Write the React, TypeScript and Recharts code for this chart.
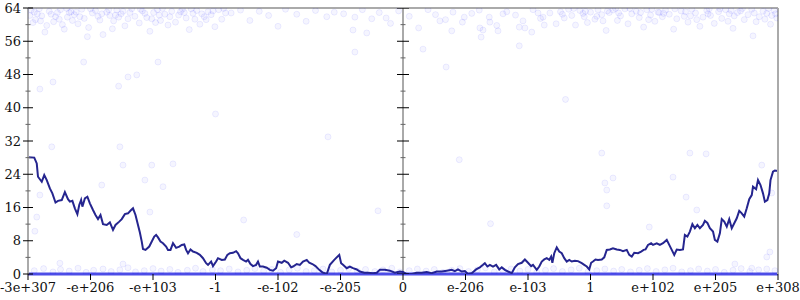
import React from 'react';
import {
  ComposedChart,
  Line,
  ReferenceLine,
  Scatter,
  XAxis,
  YAxis,
} from 'recharts';

// tick labels of the transformed x axis, one per integer position 0..12
const xLabels = [
  '-3e+307', '-e+206', '-e+103', '-1', '-e-102', '-e-205', '0',
  'e-206', 'e-103', '1', 'e+102', 'e+205', 'e+308',
];
const xTicks = [0, 1, 2, 3, 4, 5, 6, 7, 8, 9, 10, 11, 12];
const yTicks = [0, 4, 8, 12, 16, 20, 24, 28, 32, 36, 40, 44, 48, 52, 56, 60, 64];

// running curve (x position, value)
const walk: [number, number][] = [
  [0, 28.1], [0.1, 28.0], [0.14, 26.6], [0.16, 23.4], [0.22, 22.2], [0.26, 23.8], [0.3, 22.6],
  [0.35, 20.6], [0.39, 19.4], [0.44, 17.2], [0.48, 17.6], [0.54, 17.8], [0.59, 19.7], [0.64, 18.0],
  [0.67, 17.4], [0.71, 17.6], [0.75, 15.8], [0.79, 14.4], [0.82, 16.6], [0.85, 17.8], [0.87, 16.2],
  [0.91, 18.2], [0.95, 18.6], [0.99, 17.0], [1.04, 15.4], [1.08, 14.2], [1.12, 13.2], [1.16, 14.2],
  [1.2, 12.0], [1.26, 11.8], [1.31, 12.4], [1.36, 10.6], [1.4, 11.8], [1.46, 12.6], [1.5, 13.2],
  [1.55, 14.4], [1.6, 14.6], [1.65, 15.4], [1.68, 15.8], [1.72, 14.2], [1.76, 11.8], [1.79, 10.0],
  [1.82, 7.8], [1.84, 6.0], [1.88, 5.8], [1.94, 6.6], [2.02, 9.0], [2.05, 9.4], [2.08, 8.8],
  [2.12, 7.8], [2.16, 7.4], [2.21, 6.6], [2.24, 5.8], [2.28, 5.8], [2.32, 7.4], [2.37, 6.3],
  [2.42, 6.6], [2.46, 7.0], [2.5, 7.1], [2.53, 5.8], [2.56, 5.0], [2.6, 5.9], [2.64, 5.4],
  [2.7, 5.1], [2.75, 4.6], [2.8, 3.8], [2.85, 2.6], [2.88, 2.2], [2.93, 3.0], [2.96, 1.9],
  [3.01, 3.0], [3.04, 3.8], [3.1, 3.4], [3.15, 3.5], [3.19, 4.6], [3.23, 5.0], [3.28, 5.1],
  [3.33, 5.5], [3.36, 5.0], [3.4, 3.8], [3.44, 3.4], [3.49, 3.0], [3.52, 3.4], [3.56, 2.4],
  [3.6, 1.9], [3.65, 2.2], [3.68, 3.0], [3.71, 1.8], [3.76, 1.8], [3.82, 1.5], [3.87, 1.0],
  [3.92, 0.8], [3.97, 1.4], [4.0, 3.0], [4.06, 2.7], [4.1, 3.2], [4.16, 2.7], [4.21, 1.6],
  [4.24, 1.8], [4.3, 2.4], [4.35, 2.2], [4.4, 3.0], [4.46, 3.4], [4.5, 2.7], [4.55, 2.4],
  [4.6, 1.9], [4.66, 1.0], [4.71, 0.4], [4.78, 0.0], [4.83, 2.2], [4.9, 3.4], [4.98, 4.6],
  [5.01, 2.6], [5.04, 2.2], [5.1, 1.4], [5.15, 1.8], [5.2, 1.4], [5.26, 1.1], [5.31, 0.6],
  [5.38, 0.3], [5.44, 0.3], [5.52, 0.2], [5.58, 0.3], [5.63, 1.0], [5.71, 1.0], [5.79, 0.8],
  [5.87, 0.3], [5.95, 0.6], [6.0, 0.5], [6.06, 0.0], [6.14, 0.0], [6.22, 0.3], [6.3, 0.3],
  [6.38, 0.5], [6.46, 0.2], [6.54, 0.6], [6.62, 0.6], [6.7, 0.8], [6.78, 1.0], [6.83, 0.7],
  [6.88, 1.1], [6.94, 0.6], [6.99, 0.7], [7.04, 0.0], [7.1, 0.2], [7.17, 1.1], [7.23, 1.6],
  [7.28, 2.2], [7.31, 2.6], [7.35, 1.8], [7.39, 2.2], [7.44, 1.8], [7.49, 2.2], [7.54, 1.1],
  [7.58, 1.6], [7.63, 1.0], [7.68, 0.6], [7.74, 0.2], [7.79, 1.6], [7.84, 2.4], [7.9, 2.7],
  [7.95, 3.5], [8.0, 2.7], [8.05, 1.9], [8.08, 2.2], [8.14, 1.0], [8.18, 1.8], [8.22, 3.0],
  [8.26, 3.5], [8.3, 3.8], [8.34, 3.4], [8.37, 4.2], [8.39, 2.7], [8.42, 5.0], [8.46, 6.4],
  [8.5, 5.4], [8.54, 5.0], [8.58, 3.8], [8.62, 3.0], [8.66, 3.4], [8.7, 3.0], [8.75, 3.2],
  [8.8, 3.1], [8.86, 2.6], [8.9, 2.2], [8.94, 1.8], [8.98, 1.1], [9.01, 2.7], [9.04, 3.0],
  [9.08, 3.5], [9.12, 3.4], [9.18, 3.5], [9.22, 4.0], [9.26, 5.8], [9.31, 5.9], [9.36, 6.2],
  [9.42, 5.9], [9.47, 5.8], [9.52, 5.5], [9.58, 5.8], [9.62, 4.6], [9.66, 4.2], [9.7, 5.1],
  [9.76, 5.0], [9.81, 5.4], [9.85, 5.8], [9.88, 5.9], [9.92, 7.0], [9.97, 7.4], [10.0, 7.0],
  [10.06, 7.4], [10.11, 7.0], [10.16, 7.4], [10.22, 8.2], [10.26, 7.0], [10.3, 5.8], [10.34, 4.6],
  [10.38, 5.9], [10.43, 5.8], [10.48, 5.9], [10.51, 9.4], [10.55, 9.0], [10.59, 10.2], [10.63, 12.0],
  [10.67, 11.0], [10.71, 11.8], [10.75, 11.0], [10.8, 11.8], [10.83, 12.8], [10.87, 12.3], [10.91, 11.0],
  [10.96, 10.2], [10.99, 8.2], [11.03, 7.8], [11.07, 9.8], [11.1, 13.2], [11.14, 12.6], [11.18, 11.4],
  [11.22, 13.2], [11.26, 11.0], [11.3, 12.2], [11.34, 13.4], [11.38, 15.2], [11.42, 14.6], [11.46, 13.8],
  [11.5, 15.8], [11.54, 18.0], [11.58, 19.0], [11.6, 21.0], [11.65, 20.4], [11.68, 22.6], [11.72, 21.4],
  [11.76, 19.4], [11.79, 17.4], [11.83, 17.8], [11.86, 19.4], [11.88, 22.6], [11.92, 24.6], [11.95, 24.9],
  [12.0, 24.8],
];

// faint samples crowding the top of the range
const topPoints: [number, number][] = [
  [0.05, 63.5], [0.12, 61.2], [0.18, 63.8], [0.22, 62.1], [0.3, 59.8], [0.34, 63.2], [0.41, 60.7],
  [0.47, 62.9], [0.52, 63.6], [0.58, 58.9], [0.63, 61.8], [0.69, 63.1], [0.74, 62.4], [0.8, 60.2],
  [0.86, 63.7], [0.9, 61.5], [0.97, 59.3], [1.03, 62.8], [1.08, 63.4], [1.15, 61.1], [1.2, 57.6],
  [1.26, 63.0], [1.31, 62.2], [1.37, 60.9], [1.42, 63.5], [1.49, 62.6], [1.55, 59.7], [1.6, 61.4],
  [1.66, 63.8], [1.71, 62.0], [1.78, 60.4], [1.83, 63.3], [1.9, 61.7], [1.95, 58.4], [2.01, 62.9],
  [2.07, 63.6], [2.12, 61.0], [2.19, 62.5], [2.24, 59.9], [2.3, 63.2], [2.36, 60.6], [2.41, 62.3],
  [2.47, 63.7], [2.53, 61.6], [2.58, 58.8], [2.64, 62.7], [2.7, 63.4], [2.75, 60.1], [2.82, 61.9],
  [2.88, 63.1], [2.93, 62.4], [2.99, 59.5], [3.05, 63.6], [3.1, 61.3], [3.16, 62.8], [0.08, 60.5],
  [0.27, 58.2], [0.55, 60.0], [0.95, 57.1], [1.35, 59.0], [0.15, 62.6], [0.44, 61.9], [0.77, 63.0],
  [1.12, 62.0], [1.52, 63.2], [1.87, 62.7], [2.15, 63.9], [2.5, 62.9], [2.85, 61.2], [0.62, 63.9],
  [0.03, 62.2], [0.2, 60.9], [0.37, 62.5], [0.5, 61.3], [0.66, 62.9], [0.83, 61.9], [1.0, 63.8],
  [1.18, 62.6], [1.29, 63.6], [1.45, 61.8], [1.63, 62.9], [1.8, 63.7], [1.98, 61.4], [2.1, 62.3],
  [2.27, 61.9], [2.44, 63.1], [2.61, 63.8], [2.78, 62.6], [2.96, 63.3], [3.13, 63.9], [0.1, 63.0],
  [0.71, 61.0], [1.4, 62.3], [2.04, 60.5], [2.67, 61.3],
  [3.25, 62.8], [3.4, 63.5], [3.55, 61.0], [3.7, 63.2], [3.85, 62.2], [4.0, 59.6], [4.12, 63.7],
  [4.3, 62.5], [4.45, 60.8], [4.6, 63.4], [4.78, 61.9], [4.9, 63.0], [5.05, 62.6], [5.2, 58.7],
  [5.35, 63.6], [5.5, 61.4], [5.62, 62.9], [5.8, 60.3], [5.93, 63.3], [6.1, 62.0], [6.25, 59.2],
  [6.4, 63.6], [6.52, 62.4], [6.68, 61.2], [6.8, 63.0], [6.95, 60.6], [7.1, 62.7], [7.22, 63.5],
  [7.38, 61.8], [7.5, 59.8], [7.66, 63.1], [7.8, 62.3], [7.92, 60.9], [8.08, 63.6], [8.2, 61.5],
  [8.35, 62.8], [8.45, 60.2], [5.23, 61.8], [5.73, 61.6], [5.42, 58.0], [6.59, 60.9], [6.78, 58.5],
  [6.98, 61.8], [7.23, 59.2], [7.28, 58.7], [7.25, 57.0], [7.39, 60.6], [7.52, 58.5], [7.6, 62.6],
  [7.86, 59.4], [7.95, 59.2], [8.06, 58.2], [8.16, 62.8], [8.24, 61.8], [8.26, 59.9],
  [8.52, 63.1], [8.58, 61.6], [8.65, 63.7], [8.7, 62.2], [8.76, 59.9], [8.83, 63.4], [8.88, 62.7],
  [8.95, 60.5], [9.0, 63.0], [9.07, 61.3], [9.12, 63.6], [9.18, 62.4], [9.25, 58.6], [9.3, 62.9],
  [9.36, 63.5], [9.43, 61.0], [9.48, 62.1], [9.55, 63.8], [9.6, 60.2], [9.66, 62.6], [9.73, 63.2],
  [9.78, 61.7], [9.85, 59.4], [9.9, 63.6], [9.96, 62.3], [10.03, 60.8], [10.08, 63.0], [10.15, 61.9],
  [10.2, 63.5], [10.26, 62.5], [10.33, 58.9], [10.38, 61.4], [10.45, 63.3], [10.5, 62.0], [10.56, 60.6],
  [10.62, 63.7], [10.68, 62.8], [10.75, 59.6], [10.8, 61.8], [10.86, 63.4], [10.92, 62.2], [10.98, 60.3],
  [11.05, 63.1], [11.1, 61.5], [11.16, 63.6], [11.22, 62.6], [11.28, 59.1], [11.35, 62.9], [11.4, 63.3],
  [11.46, 61.2], [11.52, 62.4], [11.58, 63.7], [11.65, 60.7], [11.7, 61.9], [11.76, 63.2], [11.82, 62.7],
  [11.88, 60.1], [11.94, 63.5], [11.98, 61.6], [11.6, 57.3], [9.4, 63.9], [10.1, 62.9], [10.9, 63.8],
  [11.3, 62.1], [11.85, 63.9], [8.9, 61.9], [8.55, 62.5], [8.73, 63.9], [8.92, 63.2], [9.1, 62.0],
  [9.27, 63.3], [9.45, 62.8], [9.63, 63.9], [9.8, 62.9], [9.98, 63.7], [10.17, 62.7], [10.35, 63.8],
  [10.52, 63.1], [10.7, 61.2], [10.88, 62.6], [11.07, 63.8], [11.25, 63.4], [11.43, 63.9], [11.62, 62.8],
  [11.79, 61.3], [11.96, 62.6], [9.2, 60.9], [9.93, 61.2], [10.6, 62.1], [11.2, 60.8], [11.9, 62.2],
];

// stray samples through the middle of the range
const midPoints: [number, number][] = [
  [0.19, 44.5], [0.4, 46.2], [0.89, 51.0], [1.6, 47.4], [1.74, 47.9], [2.08, 51.0], [1.45, 45.2],
  [0.38, 30.6], [1.47, 30.6], [1.52, 26.2], [1.98, 26.2], [2.32, 26.5], [1.87, 22.6], [1.18, 21.4],
  [0.19, 19.0], [1.95, 14.9], [0.14, 13.7], [0.11, 10.3], [2.16, 21.0], [5.23, 53.4], [6.32, 54.1],
  [6.69, 49.8], [7.86, 54.9], [9.18, 29.1], [10.59, 29.1], [10.85, 28.9], [9.23, 21.9], [9.36, 23.1],
  [9.26, 20.2], [10.32, 23.3], [10.53, 18.5], [9.26, 16.4], [9.94, 11.3], [10.7, 15.4], [11.74, 26.2],
  [11.9, 19.5], [11.82, 4.1], [11.87, 5.3], [3.45, 13.0], [4.3, 9.5], [5.6, 15.2], [7.4, 12.1],
  [3.0, 38.5], [8.6, 42.0], [4.8, 33.0], [6.9, 27.5],
];

// samples just above zero
const lowPoints: [number, number][] = [
  [0.1, 0.8], [0.25, 1.3], [0.4, 0.5], [0.52, 1.1], [0.51, 2.6], [0.66, 0.7], [0.8, 1.4],
  [0.93, 0.4], [1.05, 0.9], [1.2, 1.2], [1.33, 0.6], [1.47, 1.0], [1.52, 2.4], [1.6, 1.5],
  [1.72, 0.5], [1.86, 0.8], [2.0, 1.3], [2.13, 0.7], [2.27, 1.1], [2.4, 0.4], [2.55, 0.9],
  [2.68, 1.4], [2.8, 0.6], [2.95, 1.0], [3.08, 0.8], [3.22, 1.2], [3.36, 0.5], [3.5, 0.9],
  [3.63, 1.3], [3.77, 0.7], [3.9, 1.1], [4.04, 0.4], [4.18, 1.0], [4.31, 1.4], [4.45, 0.6],
  [4.58, 0.8], [4.72, 1.2], [4.86, 0.5], [5.0, 0.9], [5.13, 1.3], [5.27, 0.7], [5.4, 1.1],
  [5.55, 0.6], [5.68, 1.0], [5.82, 1.4], [5.95, 0.5], [6.1, 0.8], [6.23, 1.2], [6.37, 0.7],
  [6.5, 1.1], [6.64, 0.4], [6.78, 0.9], [6.91, 1.3], [7.05, 0.6], [7.19, 1.0], [7.32, 1.5],
  [7.46, 0.5], [7.6, 0.8], [7.73, 1.2], [7.87, 0.7], [8.0, 1.1], [8.14, 0.4], [8.28, 0.9],
  [8.41, 1.3], [8.55, 0.6], [8.69, 1.0], [8.82, 1.4], [8.96, 0.5], [9.1, 0.8], [9.23, 1.2],
  [9.37, 0.7], [9.5, 1.1], [9.64, 0.5], [9.78, 0.9], [9.91, 1.3], [10.05, 0.6], [10.19, 1.0],
  [10.32, 1.4], [10.46, 0.5], [10.6, 0.8], [10.73, 1.2], [10.87, 0.7], [11.0, 1.1], [11.14, 0.4],
  [11.28, 0.9], [11.31, 2.4], [11.41, 1.3], [11.55, 0.6], [11.58, 1.4], [11.69, 1.0], [11.82, 1.2],
  [11.95, 0.8],
];

const toXY = (pts: [number, number][]) => pts.map(([x, y]) => ({ x, y }));

const walkData = toXY(walk);
const topData = toXY(topPoints);
const midData = toXY(midPoints);
const lowData = toXY(lowPoints);
const centerTicks = yTicks.map(y => ({ x: 6, y }));

const FONT = "'DejaVu Serif', serif";
const textStyle = { fontFamily: FONT, fontSize: 13 };

const Dot = (props: any) => (
  <circle
    cx={props.cx}
    cy={props.cy}
    r={3}
    fill="#0000ff"
    fillOpacity={0.04}
    stroke="#0000ff"
    strokeOpacity={0.07}
    strokeWidth={1}
  />
);

const tickMark = (x: number, y: number, major: boolean, half: number, halfMinor: number) => (
  <line
    x1={x - (major ? half : halfMinor)}
    x2={x + (major ? half : halfMinor)}
    y1={y}
    y2={y}
    stroke={major ? '#000' : '#666'}
    strokeWidth={1}
  />
);

const LeftTick = (props: any) => {
  const { x, y, payload } = props;
  const major = payload.value % 8 === 0;
  return (
    <g>
      {tickMark(x, y, major, 5, 2.5)}
      {major && (
        <text x={x - 7} y={y} dy="0.35em" textAnchor="end" fill="#111" style={textStyle}>
          {payload.value}
        </text>
      )}
    </g>
  );
};

const BottomTick = (props: any) => {
  const { x, y, payload } = props;
  return (
    <text x={x} y={y} dy="0.71em" textAnchor="middle" fill="#111" style={textStyle}>
      {xLabels[payload.value]}
    </text>
  );
};

const RightTick = (props: any) => {
  const { x, y, payload } = props;
  return tickMark(x, y, payload.value % 8 === 0, 5.5, 2.5);
};

const CenterTick = (props: any) => {
  const { cx, cy, payload } = props;
  return tickMark(cx, cy, payload.y % 8 === 0, 6, 2.5);
};

export default function App() {
  return (
    <div style={{ position: 'absolute', left: 0, top: 0, width: 800, height: 300, background: '#fff' }}>
      <ComposedChart width={800} height={300} margin={{ top: 8, right: 0, bottom: 0, left: 0 }}>
        <XAxis
          dataKey="x"
          type="number"
          domain={[0, 12]}
          ticks={xTicks}
          interval={0}
          allowDataOverflow
          axisLine={false}
          tickLine={{ stroke: '#000' }}
          tickSize={6}
          tickMargin={3}
          height={26}
          tick={<BottomTick />}
        />
        <YAxis
          type="number"
          domain={[0, 64]}
          ticks={yTicks}
          interval={0}
          allowDataOverflow
          width={28}
          axisLine={{ stroke: '#aaa', strokeWidth: 2 }}
          tickLine={false}
          tickSize={0}
          tickMargin={0}
          tick={<LeftTick />}
        />
        <YAxis
          yAxisId="right"
          orientation="right"
          type="number"
          domain={[0, 64]}
          ticks={yTicks}
          interval={0}
          width={22}
          axisLine={{ stroke: '#aaa', strokeWidth: 2 }}
          tickLine={false}
          tickSize={0}
          tickMargin={0}
          tick={<RightTick />}
        />
        <ReferenceLine y={64} stroke="#aaa" strokeWidth={2} />
        <ReferenceLine x={6} stroke="#555" strokeWidth={1} />
        <Scatter data={topData} dataKey="y" shape={<Dot />} isAnimationActive={false} />
        <Scatter data={midData} dataKey="y" shape={<Dot />} isAnimationActive={false} />
        <Scatter data={lowData} dataKey="y" shape={<Dot />} isAnimationActive={false} />
        <ReferenceLine y={0} stroke="#3a3ae4" strokeWidth={3} strokeOpacity={0.9} />
        <Scatter data={centerTicks} dataKey="y" shape={<CenterTick />} isAnimationActive={false} />
        <Line
          data={walkData}
          dataKey="y"
          type="linear"
          stroke="#25258f"
          strokeWidth={2}
          dot={false}
          isAnimationActive={false}
        />
      </ComposedChart>
    </div>
  );
}
